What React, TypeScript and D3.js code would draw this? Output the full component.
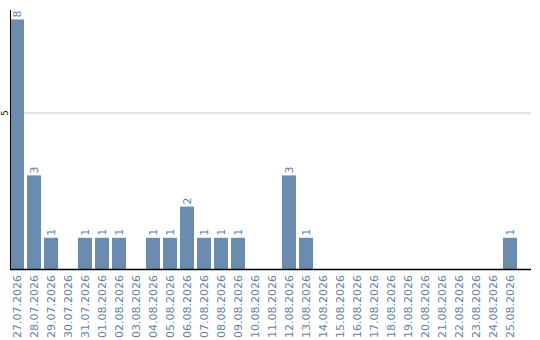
import React from "react";
import * as d3 from "d3";

const dates = [
  "27.07.2026", "28.07.2026", "29.07.2026", "30.07.2026", "31.07.2026",
  "01.08.2026", "02.08.2026", "03.08.2026", "04.08.2026", "05.08.2026",
  "06.08.2026", "07.08.2026", "08.08.2026", "09.08.2026", "10.08.2026",
  "11.08.2026", "12.08.2026", "13.08.2026", "14.08.2026", "15.08.2026",
  "16.08.2026", "17.08.2026", "18.08.2026", "19.08.2026", "20.08.2026",
  "21.08.2026", "22.08.2026", "23.08.2026", "24.08.2026", "25.08.2026",
];
const counts = [8, 3, 1, 0, 1, 1, 1, 0, 1, 1, 2, 1, 1, 1, 0, 0, 3, 1, 0, 0, 0, 0, 0, 0, 0, 0, 0, 0, 0, 1];
const yTicks = [5];

const W = 540;
const H = 340;
const left = 10;
const right = 531;
const baseY = 269;
const step = 17;
const gap = 3;
const barColor = "#6b8cae";
const labelColor = "#5f82a8";

export default function App() {
  const x = d3
    .scaleBand<string>()
    .domain(dates)
    .range([left, left + dates.length * step - gap])
    .paddingInner(gap / step)
    .paddingOuter(0);
  const y = d3.scaleLinear().domain([0, 5]).range([baseY, 113]);

  return (
    <svg
      width={W}
      height={H}
      style={{ position: "absolute", left: 0, top: 0 }}
      fontFamily="DejaVu Sans, Verdana, sans-serif"
    >
      {yTicks.map((t) => (
        <g key={t}>
          <line x1={left} x2={right} y1={y(t)} y2={y(t)} stroke="#c8c8c8" strokeWidth={1} />
          <text
            transform={`translate(8,${y(t)}) rotate(-90)`}
            textAnchor="middle"
            fontSize={8}
            fill="#000"
          >
            {t}
          </text>
        </g>
      ))}
      {dates.map((d, i) => {
        const v = counts[i];
        const bx = x(d)!;
        const cx = bx + x.bandwidth() / 2;
        return (
          <g key={d}>
            {v > 0 && (
              <rect x={bx} y={y(v)} width={x.bandwidth()} height={baseY - y(v)} fill={barColor} />
            )}
            {v > 0 && (
              <text
                transform={`translate(${cx + 4},${y(v) - 2}) rotate(-90)`}
                fontSize={11}
                fill={labelColor}
              >
                {v}
              </text>
            )}
            <text
              transform={`translate(${cx + 4},${baseY + 6}) rotate(-90)`}
              textAnchor="end"
              fontSize={11}
              fill={labelColor}
            >
              {d}
            </text>
          </g>
        );
      })}
      <line x1={left + 0.5} x2={left + 0.5} y1={10} y2={baseY} stroke="#000" strokeWidth={1} />
      <line x1={left} x2={right} y1={baseY + 0.5} y2={baseY + 0.5} stroke="#000" strokeWidth={1.5} />
    </svg>
  );
}
